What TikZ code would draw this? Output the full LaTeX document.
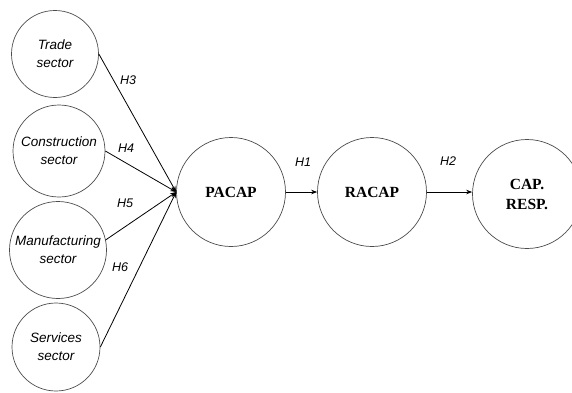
\documentclass[tikz,border=0pt]{standalone}
\usepackage{fontspec}
\setmainfont{Liberation Serif}
\newfontfamily\arialfont{Liberation Sans}
\usetikzlibrary{arrows.meta,positioning}

\tikzset{
  sectorcirc/.style={circle,draw=black!70,line width=0.7pt,inner sep=0pt,align=center,
    font=\arialfont\itshape\fontsize{13.5}{18}\selectfont},
  capcirc/.style={circle,draw=black!70,line width=0.7pt,inner sep=0pt,minimum size=109pt,align=center,
    font=\bfseries\fontsize{15.5}{20}\selectfont},
  hyplabel/.style={font=\arialfont\itshape\fontsize{12.5}{14}\selectfont},
  hyparrow/.style={->,line width=0.8pt}
}

\begin{document}
\begin{tikzpicture}[x=1pt,y=-1pt,>={Stealth[length=6pt,width=4.5pt]}]
                \useasboundingbox (0,0) rectangle (572,392);

                % Sector circles
                \node[sectorcirc,minimum size=87pt] (trade) at (55,54) {Trade\\sector};
                \node[sectorcirc,minimum size=92pt] (constr) at (59,151) {Construction\\sector};
                \node[sectorcirc,minimum size=97pt] (manuf) at (58,250) {Manufacturing\\sector};
                \node[sectorcirc,minimum size=88pt] (serv) at (56,347) {Services\\sector};

                % Capability circles
                \node[capcirc] (pacap) at (231,192) {PACAP};
                \node[capcirc] (racap) at (372,192) {RACAP};
                \node[capcirc] (capresp) at (527,194) {CAP.\\RESP.};

                % Hypotheses
                \draw[hyparrow] (trade.east) -- (pacap.west);
                \draw[hyparrow] (constr.east) -- (pacap.west);
                \draw[hyparrow] (manuf.12) -- (pacap.west);
                \draw[hyparrow] (serv.east) -- (pacap.west);
                \draw[hyparrow] (pacap.east) -- (racap.west);
                \draw[hyparrow] (racap.east) -- (capresp.west |- racap.east);

                % Labels
                \node[hyplabel] (h3) at (128,80) {H3};
                \node[hyplabel] (h4) at (126,148) {H4};
                \node[hyplabel] (h5) at (125,203) {H5};
                \node[hyplabel] (h6) at (120,267) {H6};
                \node[hyplabel] (h1) at (303,162) {H1};
                \node[hyplabel] (h2) at (448,161) {H2};
            \end{tikzpicture}
\end{document}
